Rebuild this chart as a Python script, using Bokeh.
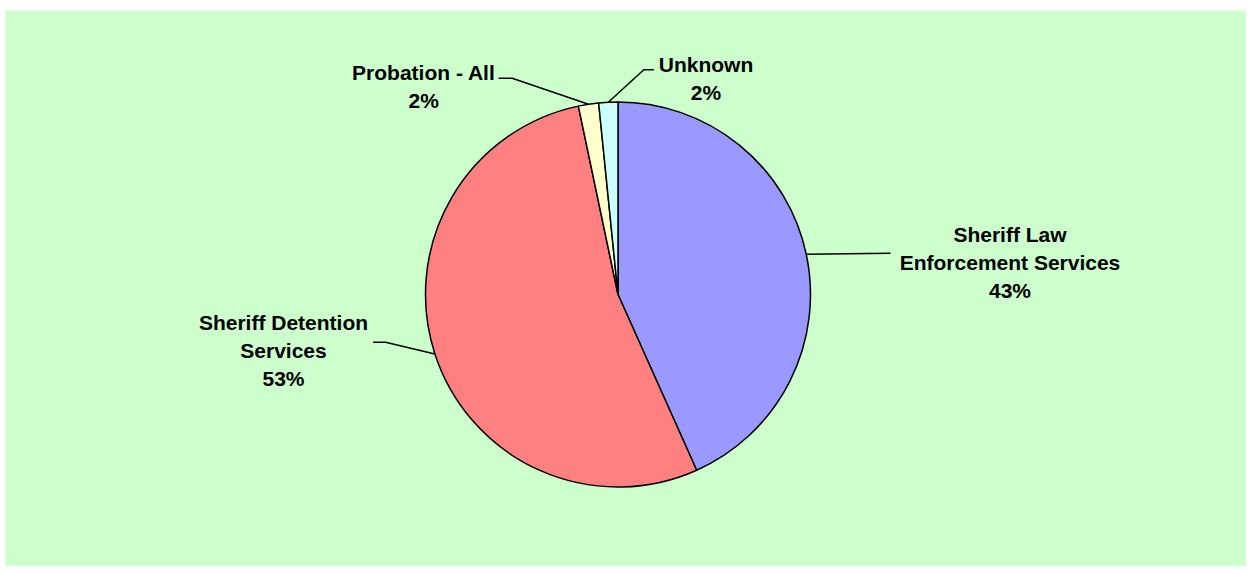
import math
from bokeh.plotting import figure
from bokeh.models import Range1d, ColumnDataSource
from bokeh.core.properties import value
from bokeh.embed import file_html
from bokeh.resources import INLINE

# ---- data ----
categories = ["Sheriff Law Enforcement Services", "Sheriff Detention Services",
              "Probation - All", "Unknown"]
shares = [43.3, 53.4, 1.7, 1.6]
label_lines = [["Sheriff Law", "Enforcement Services"],
               ["Sheriff Detention", "Services"],
               ["Probation - All"],
               ["Unknown"]]
colors = ["#9999FF", "#FF8080", "#FFFFCC", "#CCFFFF"]

# ---- layout (figure pixel coords; y converted below) ----
W, H = 1246, 566
TOP, LEFT = 10, 5
def Y(sy):
    return H - sy

cx, cy, R = 617.5, Y(294.0), 192.5
# label text centre x, first baseline (screen y), line spacing
label_pos = [(1009.5, 234.0), (283.0, 321.7), (423.3, 71.7), (705.5, 64.3)]
line_gap = 28.0
# leader elbow points (screen coords), after the anchor on the pie
leader_pts = [[(890.0, 252.8)],
              [(385.0, 341.7), (372.7, 341.7)],
              [(511.7, 77.7), (498.0, 77.7)],
              [(643.3, 69.3), (653.3, 69.3)]]

p = figure(width=W, height=H, output_backend="svg", toolbar_location=None,
           x_range=Range1d(LEFT, W), y_range=Range1d(0, H - TOP),
           min_border_left=LEFT, min_border_right=0, min_border_bottom=0,
           min_border_top=TOP)
p.axis.visible = False
p.grid.visible = False
p.outline_line_color = None
p.background_fill_color = "#CCFFCC"
p.border_fill_color = "white"

total = sum(shares)
starts, ends, mids = [], [], []
acc = 0.0
for s in shares:
    a0 = math.pi / 2 - 2 * math.pi * acc / total
    acc += s
    a1 = math.pi / 2 - 2 * math.pi * acc / total
    starts.append(a0)
    ends.append(a1)
    mids.append((a0 + a1) / 2)

src = ColumnDataSource(dict(x=[cx] * 4, y=[cy] * 4, start=starts, end=ends,
                            color=colors, name=categories))
p.wedge(x="x", y="y", radius=R, start_angle="start", end_angle="end",
        direction="clock", fill_color="color", line_color="black",
        line_width=1.5, source=src)

# leader lines
for i, m in enumerate(mids):
    ax = cx + R * math.cos(m)
    ay = cy + R * math.sin(m)
    xs = [ax] + [pt[0] for pt in leader_pts[i]]
    ys = [ay] + [Y(pt[1]) for pt in leader_pts[i]]
    p.line(xs, ys, line_color="black", line_width=1.5)

# labels
tx, ty, tt = [], [], []
for i, lines in enumerate(label_lines):
    pct = "%d%%" % round(shares[i] / total * 100)
    allines = lines + [pct]
    x0, y0 = label_pos[i]
    for k, ln in enumerate(allines):
        tx.append(x0)
        ty.append(Y(y0 + k * line_gap))
        tt.append(ln)
p.text(x=tx, y=ty, text=tt, text_font=value("Liberation Sans"),
       text_font_style="bold", text_font_size="21px", text_align="center",
       text_baseline="alphabetic", text_color="black")

open("out.html", "w").write(file_html(p, INLINE))
